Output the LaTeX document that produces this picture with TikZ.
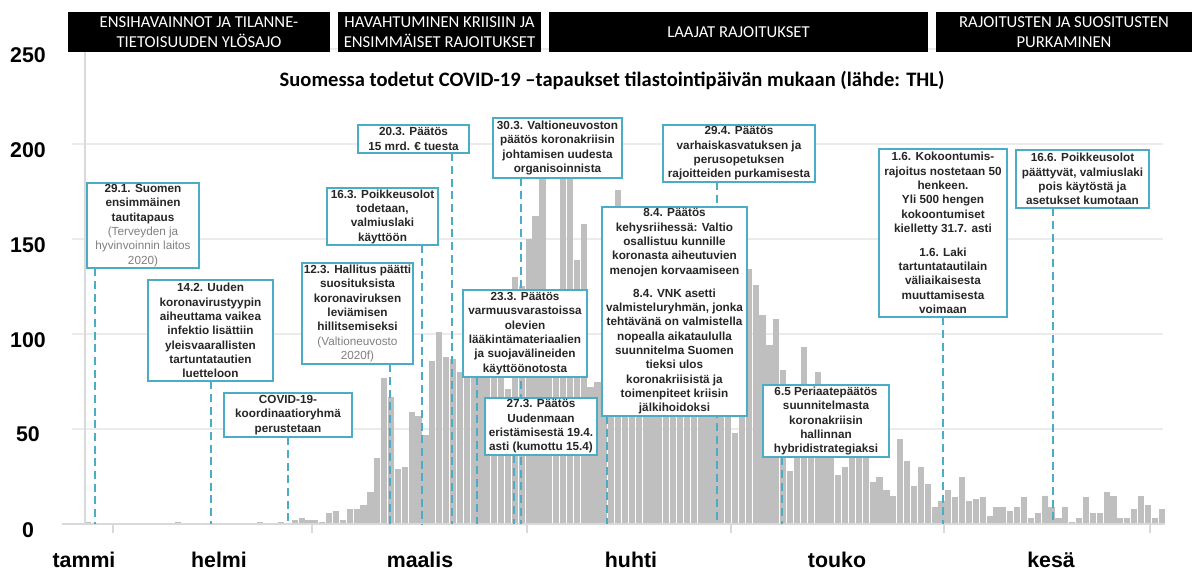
\documentclass[tikz,border=0pt]{standalone}
\usepackage{fontspec}
\setmainfont{Liberation Sans}
\newfontfamily\calfont{Carlito}
\definecolor{boxc}{HTML}{4BACC6}
\definecolor{barc}{HTML}{BFBFBF}
\definecolor{gridc}{HTML}{EBEBEB}
\definecolor{axc}{HTML}{D9D9D9}
\definecolor{txt}{HTML}{262626}
\definecolor{subt}{HTML}{808080}
\newcommand\subtxt[1]{{\mdseries\color{subt}#1}}
\begin{document}
\begin{tikzpicture}[x=0.75pt,y=-0.75pt,
  callout/.style={draw=boxc, line width=1.5pt, fill=white, inner sep=0pt, align=center,
    font=\fontsize{8.8}{10.75}\selectfont\bfseries, text=txt},
  leader/.style={draw=boxc, line width=1.5pt, dash pattern=on 6pt off 3.5pt},
  header/.style={fill=black, text=white, inner sep=0pt, align=center,
    font=\calfont\fontsize{12.5}{14.8}\selectfont, minimum height=30pt},
  axlab/.style={font=\bfseries\fontsize{16}{18}\selectfont, text=black, inner sep=0pt},
  gridline/.style={draw=gridc, line width=1.1pt},
  axisline/.style={draw=axc, line width=1.1pt},
]
\useasboundingbox (0,0) rectangle (1200,570);
\fill[white] (0,0) rectangle (1200,570);

% gridlines
\foreach \g in {49,144,239,334,429}
  \draw[gridline] (72,\g) -- (1163,\g);

% bars
\foreach \v [count=\n from 0] in {1,0,0,0,0,0,0,0,0,0,0,0,0,1,0,0,0,0,0,0,0,0,0,0,0,1,0,0,1,0,
 2,3,2,2,1,6,7,2,8,8,10,17,35,77,67,29,30,59,57,47,
 86,101,88,87,80,85,90,95,100,95,85,71,130,125,150,162,200,110,115,205,
 195,139,158,72,75,80,150,176,140,130,120,150,110,125,135,100,145,160,120,130,
 115,140,105,90,48,100,134,126,110,94,108,81,28,60,93,65,80,55,60,26,
 30,50,60,45,22,25,18,15,45,33,20,30,21,9,12,18,14,25,12,13,14,4,9,9,
 7,9,14,3,6,15,9,3,9,1,3,14,6,6,17,15,3,3,8,15,10,3,8}
  \fill[barc] ({84.9+6.88*\n+0.35},524) rectangle ({84.9+6.88*\n+6.53},{524-1.9*\v});

% axes
\draw[axisline] (85,49) -- (85,524);
\draw[axisline] (62,524) -- (1165,524);
\foreach \t in {113,312,527,731,944,1150}
  \draw[axisline] (\t,524) -- (\t,533);

% axis labels
\node[axlab] (y250) at (28,55) {250};
\node[axlab] (y200) at (28,150) {200};
\node[axlab] (y150) at (28,245) {150};
\node[axlab] (y100) at (28,340) {100};
\node[axlab] (y50) at (28,434) {50};
\node[axlab] (y0) at (28,530) {0};
\node[axlab] (m1) at (84,560) {tammi};
\node[axlab] (m2) at (219,560) {helmi};
\node[axlab] (m3) at (420,560) {maalis};
\node[axlab] (m4) at (631,560) {huhti};
\node[axlab] (m5) at (837,560) {touko};
\node[axlab] (m6) at (1051,560) {kesä};

% headers
\node[header, minimum width=196.5pt] (h1) at (199,32) {ENSIHAVAINNOT JA TILANNE-\\TIETOISUUDEN YLÖSAJO};
\node[header, minimum width=152.25pt] (h2) at (439.5,32) {HAVAHTUMINEN KRIISIIN JA\\ENSIMMÄISET RAJOITUKSET};
\node[header, minimum width=284.25pt] (h3) at (738.5,32) {LAAJAT RAJOITUKSET};
\node[header, minimum width=192pt] (h4) at (1064,32) {RAJOITUSTEN JA SUOSITUSTEN\\PURKAMINEN};

% title
\node[font=\calfont\bfseries\fontsize{15.4}{17}\selectfont, text=black] (title) at (612,80)
  {Suomessa todetut COVID-19 –tapaukset tilastointipäivän mukaan (lähde: THL)};

% baseline coordinates for leaders
\coordinate (b291) at (95,524);
\coordinate (b142) at (211,524);
\coordinate (bcov) at (288,524);
\coordinate (b123) at (390,524);
\coordinate (b163) at (422,524);
\coordinate (b203) at (452,524);
\coordinate (b233) at (477,524);
\coordinate (b273) at (514,524);
\coordinate (b303) at (521,524);
\coordinate (b84) at (607,524);
\coordinate (b294) at (717,524);
\coordinate (b65) at (782,524);
\coordinate (b16) at (943,524);
\coordinate (b166) at (1053,524);

% callout box centres
\path
  (143,225.5) coordinate (c291)
  (210.5,330.5) coordinate (c142)
  (288,415) coordinate (ccov)
  (357.5,313.5) coordinate (c123)
  (382.5,216.5) coordinate (c163)
  (413.5,139) coordinate (c203)
  (525,333.5) coordinate (c233)
  (557.5,148) coordinate (c303)
  (541,426.5) coordinate (c273)
  (674.5,311.5) coordinate (c84)
  (739,153.5) coordinate (c294)
  (826,421) coordinate (c65)
  (943,233) coordinate (c16)
  (1082.5,179) coordinate (c166);

% leaders (drawn beneath boxes)
\foreach \k/\w/\h in {291/84/63.75,142/93.75/75.75,cov/96/33,123/83.25/75.75,163/83.25/42.75,
  203/83.25/21,233/93/65.25,303/96.75/45,273/84/42.75,84/108.75/156.75,294/114/42.75,
  65/94.5/54,16/96/126,166/99.75/43.5}
  \path (c\k) node[minimum width=\w pt, minimum height=\h pt, inner sep=0pt] (s\k) {};
\foreach \k in {291,142,cov,123,163,203,233,303,273,84,294,65,16,166}
  \draw[leader] (s\k.south -| b\k) -- (b\k);

% boxes
\node[callout, minimum width=84pt, minimum height=63.75pt] (n291) at (c291)
  {29.1. Suomen\\ensimmäinen\\tautitapaus\\\subtxt{(Terveyden ja}\\\subtxt{hyvinvoinnin laitos}\\\subtxt{2020)}};
\node[callout, minimum width=93.75pt, minimum height=75.75pt] (n142) at (c142)
  {14.2. Uuden\\koronavirustyypin\\aiheuttama vaikea\\infektio lisättiin\\yleisvaarallisten\\tartuntatautien\\luetteloon};
\node[callout, minimum width=96pt, minimum height=33pt] (ncov) at (ccov)
  {COVID-19-\\koordinaatioryhmä\\perustetaan};
\node[callout, minimum width=83.25pt, minimum height=75.75pt] (n123) at (c123)
  {12.3. Hallitus päätti\\suosituksista\\koronaviruksen\\leviämisen\\hillitsemiseksi\\\subtxt{(Valtioneuvosto}\\\subtxt{2020f)}};
\node[callout, minimum width=83.25pt, minimum height=42.75pt] (n163) at (c163)
  {16.3. Poikkeusolot\\todetaan,\\valmiuslaki\\käyttöön};
\node[callout, minimum width=83.25pt, minimum height=21pt] (n203) at (c203)
  {20.3. Päätös\\15 mrd. € tuesta};
\node[callout, minimum width=93pt, minimum height=65.25pt] (n233) at (c233)
  {23.3. Päätös\\varmuusvarastoissa\\olevien\\lääkintämateriaalien\\ja suojavälineiden\\käyttöönotosta};
\node[callout, minimum width=96.75pt, minimum height=45pt] (n303) at (c303)
  {30.3. Valtioneuvoston\\päätös koronakriisin\\johtamisen uudesta\\organisoinnista};
\node[callout, minimum width=84pt, minimum height=42.75pt] (n273) at (c273)
  {27.3. Päätös\\Uudenmaan\\eristämisestä 19.4.\\asti (kumottu 15.4)};
\node[callout, minimum width=108.75pt, minimum height=156.75pt] (n84) at (c84)
  {8.4. Päätös\\kehysriihessä: Valtio\\osallistuu kunnille\\koronasta aiheutuvien\\menojen korvaamiseen\\[6.4pt]8.4. VNK asetti\\valmisteluryhmän, jonka\\tehtävänä on valmistella\\nopealla aikataululla\\suunnitelma Suomen\\tieksi ulos\\koronakriisistä ja\\toimenpiteet kriisin\\jälkihoidoksi};
\node[callout, minimum width=114pt, minimum height=42.75pt] (n294) at (c294)
  {29.4. Päätös\\varhaiskasvatuksen ja\\perusopetuksen\\rajoitteiden purkamisesta};
\node[callout, minimum width=94.5pt, minimum height=54pt] (n65) at (c65)
  {6.5 Periaatepäätös\\suunnitelmasta\\koronakriisin\\hallinnan\\hybridistrategiaksi};
\node[callout, minimum width=96pt, minimum height=126pt] (n16) at (c16)
  {1.6. Kokoontumis-\\rajoitus nostetaan 50\\henkeen.\\Yli 500 hengen\\kokoontumiset\\kielletty 31.7. asti\\[6.8pt]1.6. Laki\\tartuntatautilain\\väliaikaisesta\\muuttamisesta\\voimaan};
\node[callout, minimum width=99.75pt, minimum height=43.5pt] (n166) at (c166)
  {16.6. Poikkeusolot\\päättyvät, valmiuslaki\\pois käytöstä ja\\asetukset kumotaan};
\end{tikzpicture}
\end{document}
